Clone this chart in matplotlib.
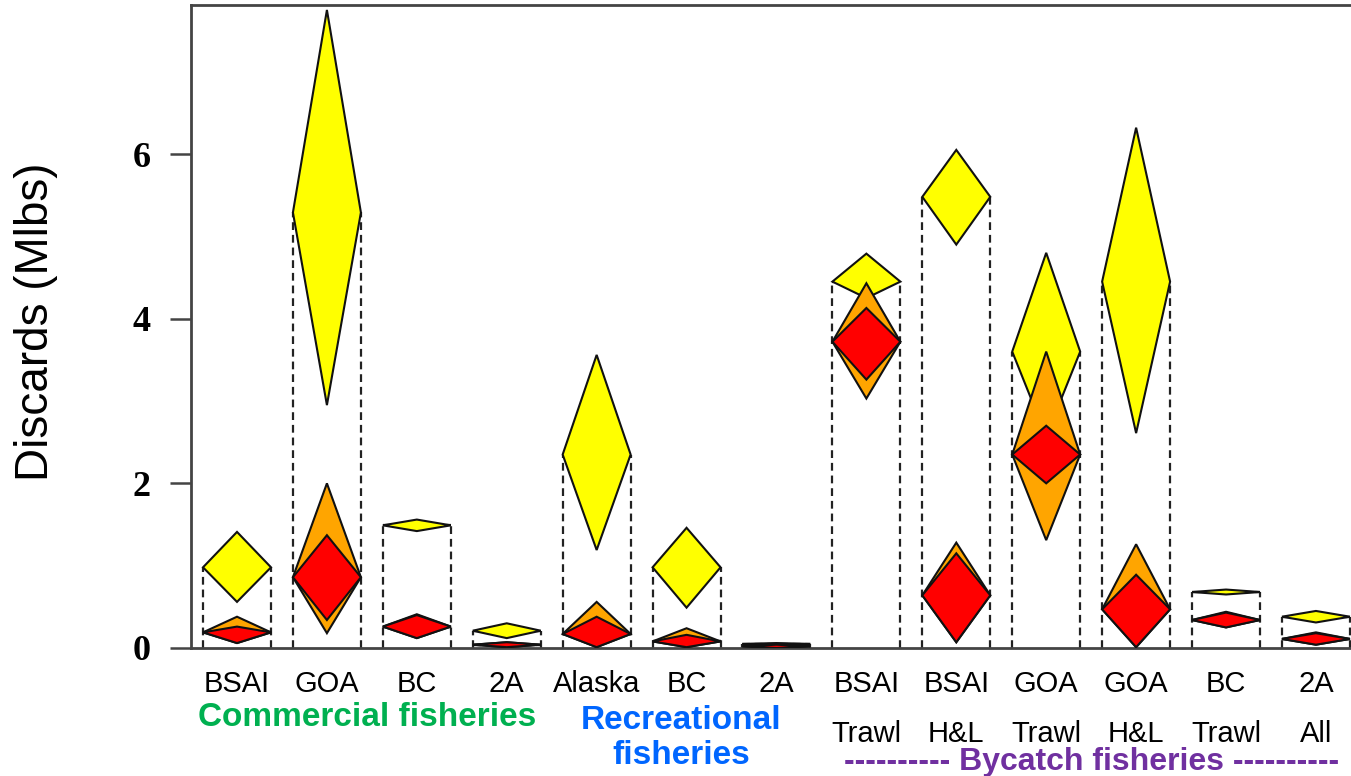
import matplotlib
matplotlib.use("Agg")
import matplotlib.pyplot as plt
from matplotlib.patches import Polygon

# fishery groups along the x axis
labels = ["BSAI", "GOA", "BC", "2A", "Alaska", "BC", "2A",
          "BSAI\nTrawl", "BSAI\nH&L", "GOA\nTrawl", "GOA\nH&L", "BC\nTrawl", "2A\nAll"]

# diamonds: lower bound, middle, upper bound (Mlbs)
yellow_lo = [0.56, 2.95, 1.42, 0.12, 1.19, 0.49, 0.03, 4.25, 4.90, 2.57, 2.61, 0.65, 0.31]
yellow_mid = [0.98, 5.29, 1.49, 0.21, 2.35, 0.98, 0.05, 4.45, 5.48, 3.60, 4.45, 0.68, 0.38]
yellow_hi = [1.41, 7.75, 1.56, 0.30, 3.56, 1.46, 0.06, 4.79, 6.05, 4.80, 6.32, 0.71, 0.45]

orange_lo = [0.06, 0.18, 0.12, 0.01, 0.01, 0.01, 0.00, 3.03, 0.07, 1.31, 0.01, 0.25, 0.04]
orange_mid = [0.19, 0.86, 0.26, 0.04, 0.17, 0.08, 0.02, 3.72, 0.64, 2.35, 0.47, 0.34, 0.11]
orange_hi = [0.38, 2.00, 0.41, 0.07, 0.56, 0.24, 0.04, 4.43, 1.28, 3.60, 1.26, 0.44, 0.19]

red_lo = [0.06, 0.34, 0.12, 0.01, 0.01, 0.01, 0.00, 3.26, 0.07, 2.00, 0.01, 0.25, 0.04]
red_mid = [0.19, 0.86, 0.26, 0.04, 0.17, 0.08, 0.02, 3.72, 0.64, 2.35, 0.47, 0.34, 0.11]
red_hi = [0.26, 1.37, 0.40, 0.07, 0.38, 0.16, 0.04, 4.13, 1.15, 2.70, 0.89, 0.43, 0.18]

series = [(yellow_lo, yellow_mid, yellow_hi, "#FFFF00"),
          (orange_lo, orange_mid, orange_hi, "#FFA500"),
          (red_lo, red_mid, red_hi, "#FF0000")]

W, H = 1351, 776
fig = plt.figure(figsize=(W / 100, H / 100), dpi=100)
ax = fig.add_axes([191 / W, 128 / H, 1160 / W, 643 / H])

xs = list(range(1, len(labels) + 1))
hw = 0.378
dash = (0, (3.5, 2.2))

# dashed boxes from zero up to each middle value
for i, x in enumerate(xs):
    top = max(yellow_mid[i], orange_mid[i], red_mid[i])
    for side in (x - hw, x + hw):
        ax.plot([side, side], [0, top], ls=dash, color="#222222", lw=1.6, zorder=1)
    for mids in (yellow_mid, orange_mid, red_mid):
        ax.plot([x - hw, x + hw], [mids[i], mids[i]], ls=dash,
                color="#222222", lw=1.6, zorder=1)

# diamonds
for z, (los, mids, his, col) in enumerate(series):
    for x, lo, m, hi in zip(xs, los, mids, his):
        pts = [(x - hw, m), (x, hi), (x + hw, m), (x, lo)]
        ax.add_patch(Polygon(pts, closed=True, facecolor=col, edgecolor="#111111",
                             lw=1.5, zorder=2 + z))

ax.set_xlim(0.4883, 13.39)
ax.set_ylim(0, 7.81)

for s in ("left", "top", "bottom"):
    ax.spines[s].set_color("#444444")
    ax.spines[s].set_linewidth(2)
ax.spines["right"].set_visible(False)

ax.set_yticks([0, 2, 4, 6])
ax.tick_params(axis="y", length=15, width=1.8, color="#444444", pad=14, labelsize=26)
for t in ax.get_yticklabels():
    t.set_fontfamily(["Liberation Serif", "DejaVu Serif"])
    t.set_fontweight("bold")

ax.set_xticks(xs)
ax.set_xticklabels(labels, fontfamily=["Liberation Sans", "DejaVu Sans"],
                   fontsize=21, linespacing=2.0)
ax.tick_params(axis="x", length=0, pad=16)

fig.text(36 / W, 1 - 322 / H, "Discards (Mlbs)", rotation=90, ha="center", va="center",
         fontfamily=["Liberation Sans", "DejaVu Sans"], fontsize=33)

grp_font = ["Liberation Sans", "DejaVu Sans"]
fig.text(367 / W, 1 - 717 / H, "Commercial fisheries", ha="center", va="center",
         color="#00B050", fontweight="bold", fontfamily=grp_font, fontsize=24)
fig.text(681 / W, 1 - 738 / H, "Recreational\nfisheries", ha="center", va="center",
         color="#0066FF", fontweight="bold", fontfamily=grp_font, fontsize=24,
         linespacing=1.2)
fig.text(1092 / W, 1 - 762 / H, "---------- Bycatch fisheries ----------", ha="center",
         va="center", color="#7030A0", fontweight="bold", fontfamily=grp_font, fontsize=23)

fig.savefig("out.png", dpi=100)
